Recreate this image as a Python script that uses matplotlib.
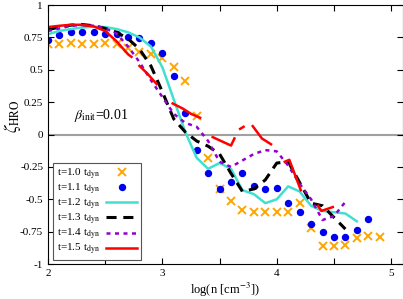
import numpy as np
import matplotlib
matplotlib.use("Agg")
from matplotlib import pyplot as plt

plt.rcParams['font.family'] = ['Liberation Serif', 'DejaVu Serif']
plt.rcParams['mathtext.fontset'] = 'stix'
plt.rcParams['font.size'] = 8

# Datos
x10 = np.round(np.arange(2.0, 4.95, 0.1), 2)
y10 = [0.70, 0.70, 0.71, 0.70, 0.70, 0.71, 0.70, 0.67, 0.635, 0.62,
       0.59, 0.52, 0.41, 0.14, -0.18, -0.42, -0.51, -0.58, -0.60, -0.60,
       -0.60, -0.60, -0.53, -0.72, -0.86, -0.86, -0.85, -0.80, -0.78, -0.79]

x11 = np.round(np.arange(2.0, 4.85, 0.1), 2)
y11 = [0.73, 0.77, 0.79, 0.79, 0.79, 0.78, 0.78, 0.75, 0.745, 0.71,
       0.63, 0.45, 0.17, -0.12, -0.30, -0.42, -0.37, -0.30, -0.40, -0.42,
       -0.41, -0.53, -0.60, -0.69, -0.75, -0.79, -0.79, -0.74, -0.655]

x12 = np.round(np.arange(2.0, 4.75, 0.1), 2)
y12 = [0.775, 0.80, 0.815, 0.827, 0.833, 0.83, 0.815, 0.79, 0.75, 0.68,
       0.52, 0.27, 0.02, -0.18, -0.265, -0.22, -0.265, -0.43, -0.46, -0.53,
       -0.50, -0.40, -0.44, -0.55, -0.59, -0.60, -0.61, -0.67]

x13 = np.round(np.arange(2.0, 4.65, 0.1), 2)
y13 = [0.81, 0.83, 0.845, 0.85, 0.84, 0.82, 0.79, 0.74, 0.66, 0.53,
       0.33, 0.12, 0.02, -0.05, -0.09, -0.15, -0.30, -0.44, -0.42, -0.35,
       -0.22, -0.21, -0.37, -0.53, -0.55, -0.64, -0.73]

x14 = np.round(np.arange(2.0, 4.65, 0.1), 2)
y14 = [0.80, 0.82, 0.84, 0.845, 0.84, 0.82, 0.78, 0.68, 0.56, 0.42,
       0.29, 0.16, 0.09, 0.06, -0.05, -0.21, -0.25, -0.20, -0.15, -0.12,
       -0.13, -0.24, -0.38, -0.50, -0.66, -0.63, -0.52]

nan = np.nan
x15 = [2.0, 2.1, 2.2, 2.3, 2.4, 2.5, 2.6, 2.7, 2.73, nan,
       2.80, 2.87, 2.95, nan,
       3.09, 3.18, 3.25, 3.33, nan,
       3.44, 3.60, 3.63, nan,
       3.68, 3.71, nan,
       3.79, 3.87, 3.95, nan,
       4.07, 4.11, 4.21, nan,
       4.36, 4.39, 4.49]
y15 = [0.83, 0.84, 0.848, 0.848, 0.835, 0.80, 0.72, 0.62, 0.60, nan,
       0.53, 0.47, 0.39, nan,
       0.24, 0.20, 0.16, 0.13, nan,
       -0.02, -0.085, -0.03, nan,
       0.044, 0.06, nan,
       0.065, -0.03, -0.075, nan,
       -0.21, -0.195, -0.43, nan,
       -0.55, -0.59, -0.56]

labels = ["t=1.0 t$_{\\rm dyn}$", "t=1.1 t$_{\\rm dyn}$", "t=1.2 t$_{\\rm dyn}$",
          "t=1.3 t$_{\\rm dyn}$", "t=1.4 t$_{\\rm dyn}$", "t=1.5 t$_{\\rm dyn}$"]

fig = plt.figure(figsize=(4.03, 2.99), dpi=100)
ax = fig.add_axes([0.119, 0.117, 0.88, 0.866])

ax.axhline(0, color='#a0a0a0', lw=1.5, zorder=1)

ax.plot(x10, y10, 'x', color='#FFA500', ms=6, mew=1.4, label=labels[0])
ax.plot(x11, y11, 'o', color='#0000F0', ms=4.3, label=labels[1])
ax.plot(x12, y12, '-', color='#40E0D0', lw=1.8, label=labels[2])
ax.plot(x13, y13, '-', color='black', lw=2.2, dashes=(3.3, 2.2), label=labels[3])
ax.plot(x14, y14, '-', color='#9400D3', lw=1.8, dashes=(1.6, 1.8), label=labels[4])
ax.plot(x15, y15, '-', color='red', lw=1.8, label=labels[5])

ax.text(2.23, 0.15, r'$\beta_{\rm init}$=0.01', fontsize=10, va='center')

ax.set_xlim(2, 5.1)
ax.set_ylim(-1, 1)
xt = np.arange(2, 5.01, 0.5)
ax.set_xticks(xt)
ax.set_xticklabels([f"{v:g}" if v == int(v) else "" for v in xt])
yt = np.arange(-1, 1.01, 0.25)
ax.set_yticks(yt)
ax.set_yticklabels([f"{v:g}" for v in yt])
ax.tick_params(direction='in', top=True, right=True, length=4, width=0.8)
ax.set_xlabel(r'log(n [cm$^{-3}$])', fontsize=9, labelpad=2)
ax.set_ylabel(r'$\zeta_{\rm HRO}$', fontsize=12)
ax.yaxis.set_label_coords(-0.07, 0.57)

leg = ax.legend(loc='lower left', bbox_to_anchor=(0.015, 0.014), markerfirst=False,
                handlelength=2.8, labelspacing=0.0, borderpad=0.3,
                handletextpad=0.6, fancybox=False, framealpha=1, borderaxespad=0)
leg.get_frame().set_edgecolor('#555555')
leg.get_frame().set_linewidth(0.8)

fig.savefig('out.png', dpi=100)
